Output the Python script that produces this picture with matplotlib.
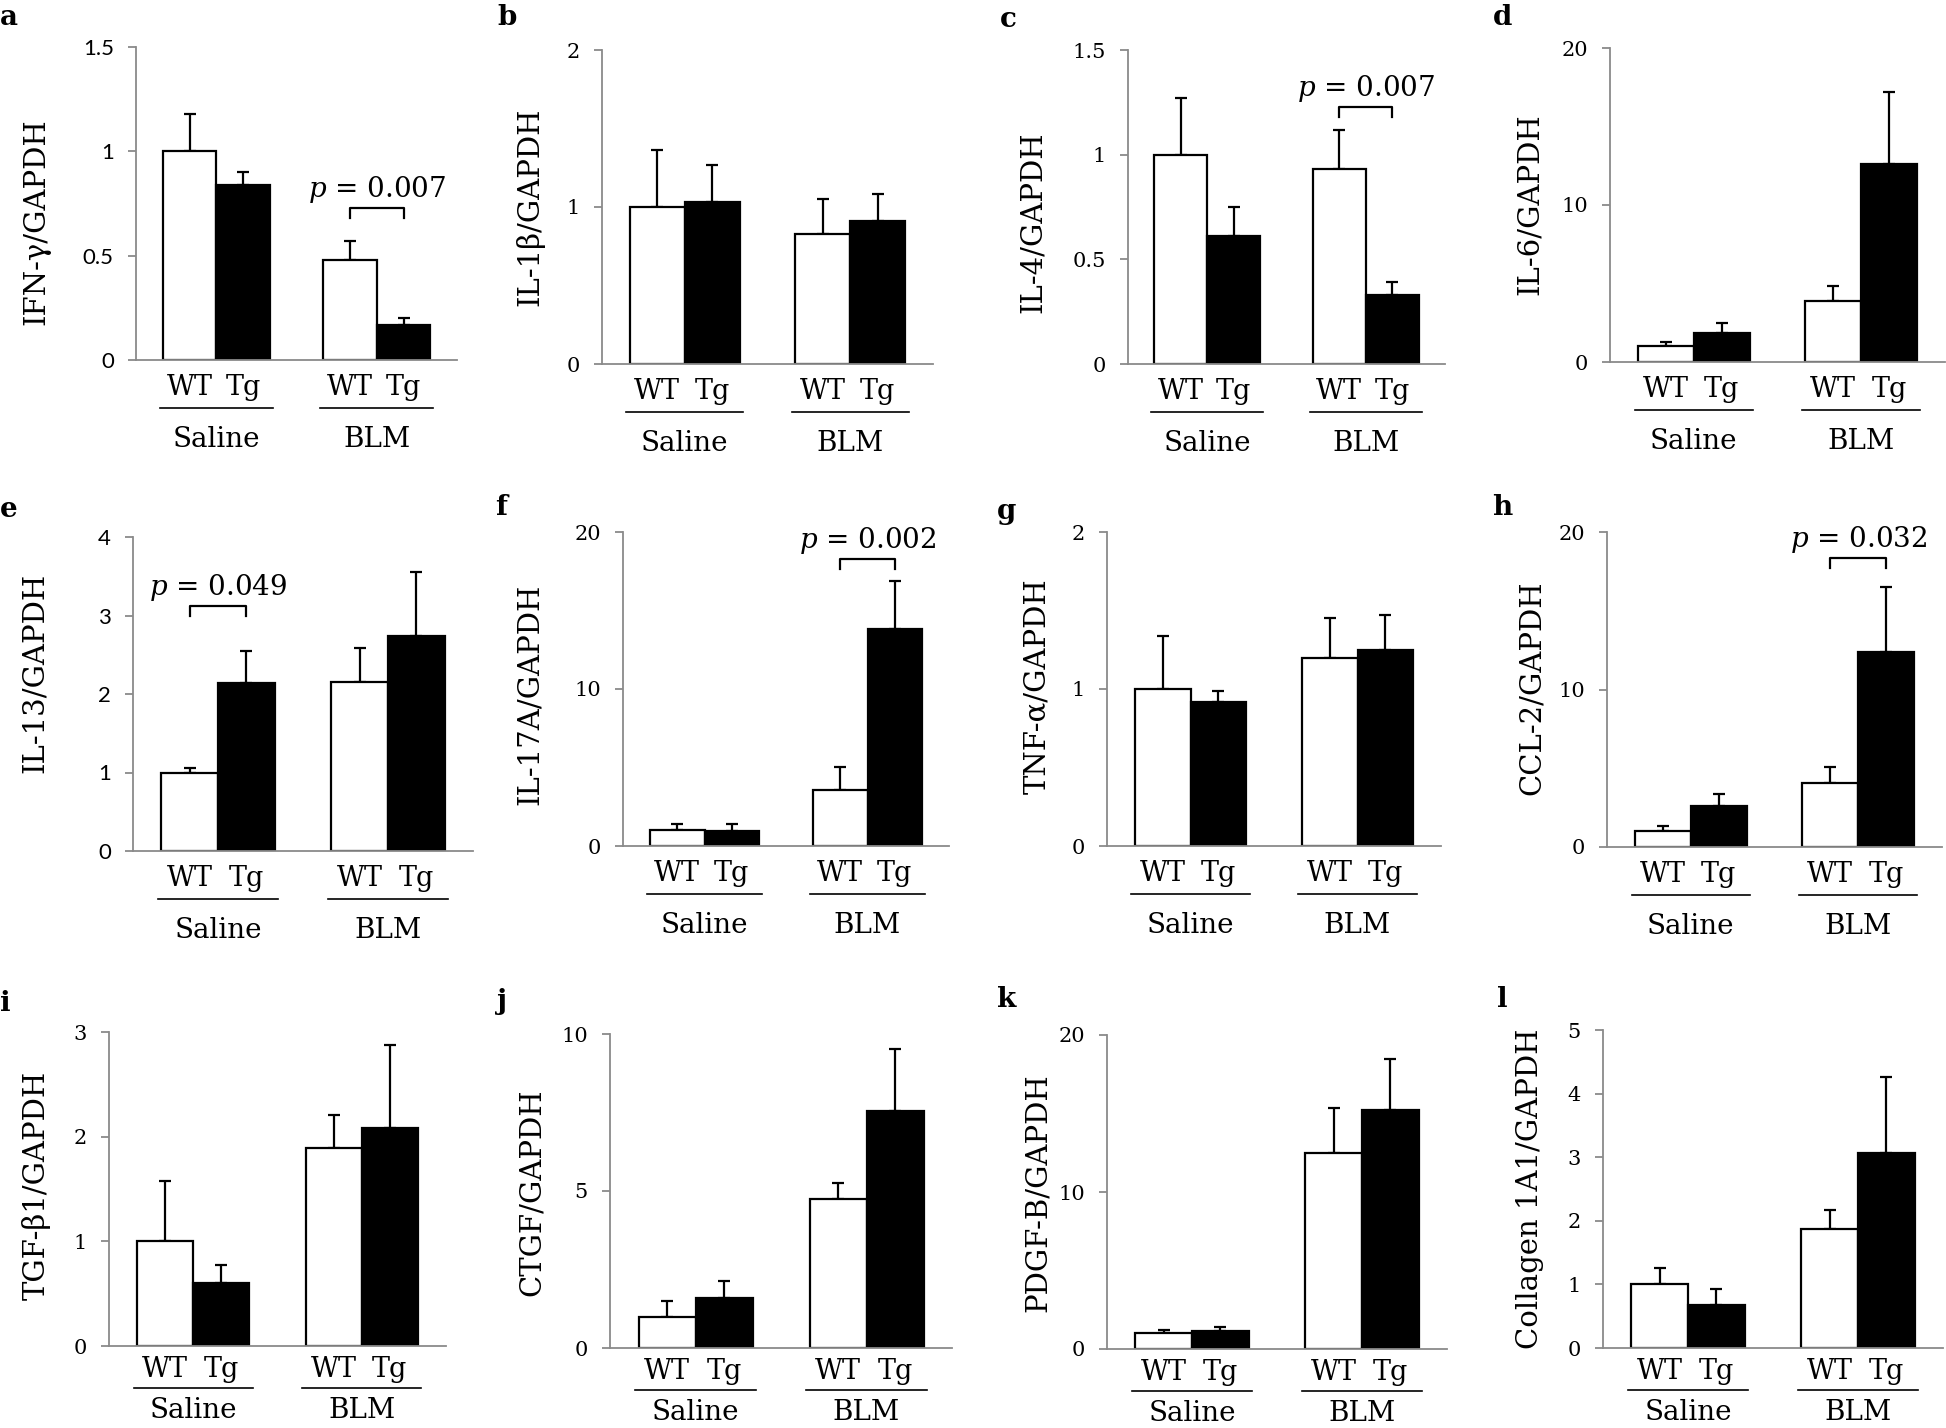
import numpy as np
import matplotlib
matplotlib.use("Agg")
import matplotlib.pyplot as plt
import matplotlib.transforms as mtransforms

plt.rcParams['font.family'] = 'DejaVu Serif'
plt.rcParams['mathtext.fontset'] = 'dejavuserif'

W, H = 1946, 1428

# ---- data (relative mRNA expression, mean + SE) ----
panel_letters = list("abcdefghijkl")
ylabels = ["IFN-γ/GAPDH", "IL-1β/GAPDH", "IL-4/GAPDH", "IL-6/GAPDH",
           "IL-13/GAPDH", "IL-17A/GAPDH", "TNF-α/GAPDH", "CCL-2/GAPDH",
           "TGF-β1/GAPDH", "CTGF/GAPDH", "PDGF-B/GAPDH", "Collagen 1A1/GAPDH"]
groups = ["Saline", "BLM"]
genotypes = ["WT", "Tg"]

wt_saline = [1.0, 1.0, 1.0, 1.0, 1.0, 1.0, 1.0, 1.0, 1.0, 1.0, 1.0, 1.0]
wt_saline_err = [0.18, 0.36, 0.27, 0.3, 0.06, 0.42, 0.34, 0.31, 0.58, 0.51, 0.2, 0.26]
tg_saline = [0.84, 1.03, 0.61, 1.87, 2.14, 0.93, 0.92, 2.59, 0.6, 1.59, 1.12, 0.68]
tg_saline_err = [0.06, 0.24, 0.14, 0.6, 0.41, 0.49, 0.07, 0.8, 0.17, 0.55, 0.28, 0.24]
wt_blm = [0.48, 0.83, 0.93, 3.87, 2.15, 3.55, 1.2, 4.07, 1.89, 4.76, 12.5, 1.87]
wt_blm_err = [0.09, 0.22, 0.19, 1.0, 0.43, 1.48, 0.25, 1.02, 0.32, 0.48, 2.88, 0.3]
tg_blm = [0.17, 0.91, 0.33, 12.6, 2.74, 13.8, 1.25, 12.36, 2.08, 7.54, 15.2, 3.06]
tg_blm_err = [0.03, 0.17, 0.06, 4.6, 0.81, 3.08, 0.22, 4.14, 0.8, 1.98, 3.26, 1.2]

ymax = [1.5, 2, 1.5, 20, 4, 20, 2, 20, 3, 10, 20, 5]
ystep = [0.5, 1, 0.5, 10, 1, 10, 1, 10, 1, 5, 10, 1]

# panel index -> (group index, p value text)
pvalues = {0: (1, "0.007"), 2: (1, "0.007"), 4: (0, "0.049"),
           5: (1, "0.002"), 7: (1, "0.032")}

# ---- layout (pixels in the 1946x1428 canvas) ----
# left, top, bottom, right of each plot area
boxes = [(136, 47, 360, 457), (602, 50, 364, 933), (1128, 50, 364, 1445), (1610, 48, 362, 1945),
         (133, 537, 851, 473), (623, 532, 846, 949), (1107, 532, 846, 1441), (1607, 532, 847, 1942),
         (109, 1032, 1346, 446), (610, 1034, 1348, 952), (1107, 1035, 1349, 1447), (1603, 1030, 1348, 1943)]
ylabel_pos = [(36, 222), (530, 207), (1033, 222), (1530, 204),
              (35, 673), (530, 694), (1037, 686), (1532, 688),
              (36, 1185), (532, 1192), (1038, 1193), (1530, 1189)]
letter_pos = [(0, 4), (497, 4), (1000, 6), (1493, 4),
              (0, 496), (495, 494), (997, 498), (1492, 494),
              (0, 990), (497, 988), (997, 986), (1497, 986)]
# pixel offsets below the axis: genotype baseline, underline, group baseline
row_offsets = [(35, 48, 87), (35, 48, 87), (31, 42, 72)]
bracket_y = {0: 0.728, 2: 1.227, 4: 3.123, 5: 18.3, 7: 18.35}
sans_ticks = [0, 4]

axis_gray = '#8a8a8a'

fig = plt.figure(figsize=(W / 100, H / 100), dpi=100)

for i in range(12):
    L, T, B, R = boxes[i]
    h = B - T
    ax = fig.add_axes([L / W, 1 - B / H, (R - L) / W, h / H])

    x = [0, 1, 3, 4]
    vals = [wt_saline[i], tg_saline[i], wt_blm[i], tg_blm[i]]
    errs = [wt_saline_err[i], tg_saline_err[i], wt_blm_err[i], tg_blm_err[i]]
    ax.errorbar(x, vals, yerr=[[0] * 4, errs], fmt='none', ecolor='black',
                elinewidth=1.6, capsize=4.5, capthick=1.6, zorder=1)
    ax.bar(x, vals, width=1, color=['white', 'black', 'white', 'black'],
           edgecolor='black', linewidth=1.6, zorder=2)

    ax.set_xlim(-1, 5)
    ax.set_ylim(0, ymax[i])
    for s in ['top', 'right']:
        ax.spines[s].set_visible(False)
    for s in ['left', 'bottom']:
        ax.spines[s].set_color(axis_gray)
        ax.spines[s].set_linewidth(1.3)
    ax.set_xticks([])
    ticks = np.arange(0, ymax[i] + ystep[i] / 2, ystep[i])
    ax.set_yticks(ticks)
    if i in sans_ticks:
        ax.set_yticklabels([f"{t:g}" for t in ticks], fontfamily='Lato', fontsize=16)
    else:
        ax.set_yticklabels([f"{t:g}" for t in ticks], fontfamily='DejaVu Serif', fontsize=15)
    ax.tick_params(axis='y', direction='out', length=6, width=1.3,
                   color=axis_gray, pad=10)

    off_gt, off_line, off_grp = row_offsets[i // 4]
    trans = mtransforms.blended_transform_factory(ax.transData, ax.transAxes)
    for xx, g in zip(x, genotypes * 2):
        ax.text(xx, -off_gt / h, g, transform=trans, ha='center', va='baseline', fontsize=19.5)
    for gi, g in enumerate(groups):
        c = 0.5 + 3 * gi
        ax.plot([c - 1.06, c + 1.06], [-off_line / h] * 2, transform=trans,
                color='black', lw=1.2, clip_on=False)
        ax.text(c, -off_grp / h, g, transform=trans, ha='center', va='baseline', fontsize=20)

    if i in pvalues:
        gi, ptxt = pvalues[i]
        x0, x1 = 3 * gi, 3 * gi + 1
        top = bracket_y[i]
        leg = 10 / h * ymax[i]
        ax.plot([x0, x0, x1, x1], [top - leg, top, top, top - leg],
                color='black', lw=1.6, clip_on=False)
        ax.text(3 * gi + 0.5, top + 11 / h * ymax[i], r'$p$ = ' + ptxt,
                ha='center', va='baseline', fontsize=20, clip_on=False)

    fig.text(ylabel_pos[i][0] / W, 1 - ylabel_pos[i][1] / H, ylabels[i],
             rotation=90, ha='center', va='center', fontsize=21)
    fig.text(letter_pos[i][0] / W, 1 - letter_pos[i][1] / H, panel_letters[i],
             ha='left', va='top', fontsize=20, fontweight='bold')

fig.savefig("out.png", dpi=100)
